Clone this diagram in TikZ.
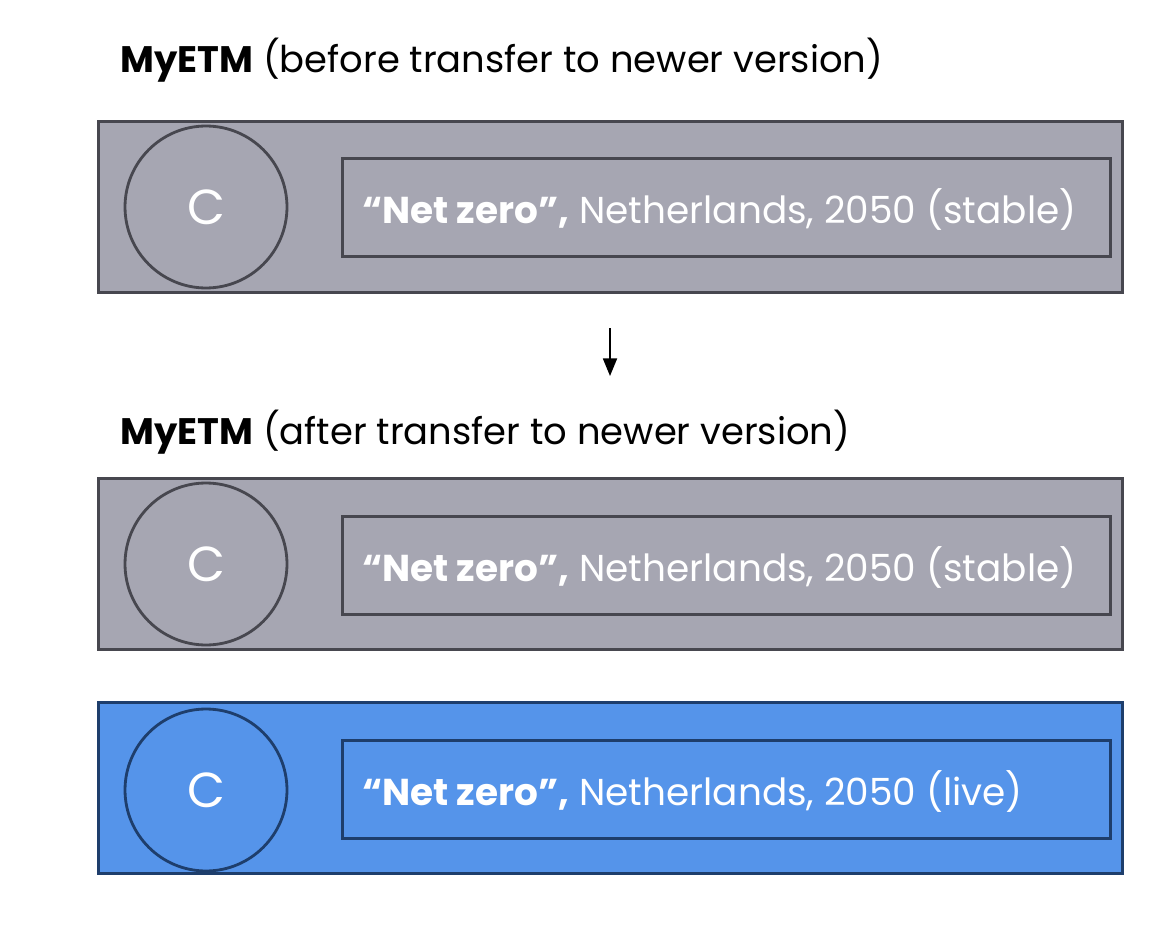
\documentclass[tikz,border=0pt]{standalone}
\usepackage{fontspec}
\setmainfont{Poppins}
\usetikzlibrary{arrows.meta}
\definecolor{grayfill}{HTML}{A6A6B2}
\definecolor{grayline}{HTML}{47474F}
\definecolor{bluefill}{HTML}{5594EA}
\definecolor{blueline}{HTML}{1E3E6C}
\tikzset{
  px/.style={x=0.02cm,y=-0.02cm},
  outerbox/.style={draw=#1, line width=1.6pt, minimum width=20.48cm, minimum height=3.42cm, anchor=north west, inner sep=0pt},
  innerbox/.style={draw=#1, line width=1.6pt, minimum width=15.36cm, minimum height=1.96cm, anchor=north west, inner sep=0pt},
  cbubble/.style={circle, draw=#1, line width=1.6pt, minimum size=3.24cm, inner sep=0pt, text=white, font=\fontsize{28}{30}\selectfont},
  label/.style={anchor=west, text=white, font=\fontsize{21.3}{24}\selectfont, inner sep=0pt},
  title/.style={anchor=west, font=\fontsize{21}{24}\selectfont, inner sep=0pt},
}
\begin{document}
\begin{tikzpicture}[px]
\useasboundingbox (0,0) rectangle (1172,932);
% titles
\node[title] (t1) at (120,60) {\textbf{MyETM} (before transfer to newer version)};
\node[title] (t2) at (120,432) {\textbf{MyETM} (after transfer to newer version)};
% box 1
\node[outerbox=grayline, fill=grayfill] (b1) at (97,120) {};
\node[cbubble=grayline] (c1) at (206,207) {C};
\node[innerbox=grayline] (i1) at (341,157) {};
\node[label] (l1) at (362,210) {\textbf{“Net zero”,} Netherlands, 2050 (stable)};
% arrow
\coordinate (a1) at (610,328);
\coordinate (a2) at (610,376);
\draw[-{Triangle[length=10pt,width=8pt]}, line width=0.9pt] (a1) -- (a2);
% box 2
\node[outerbox=grayline, fill=grayfill] (b2) at (97,477) {};
\node[cbubble=grayline] (c2) at (206,564) {C};
\node[innerbox=grayline] (i2) at (341,515) {};
\node[label] (l2) at (362,567) {\textbf{“Net zero”,} Netherlands, 2050 (stable)};
% box 3
\node[outerbox=blueline, fill=bluefill] (b3) at (97,701) {};
\node[cbubble=blueline] (c3) at (206,790) {C};
\node[innerbox=blueline] (i3) at (341,739) {};
\node[label] (l3) at (362,791) {\textbf{“Net zero”,} Netherlands, 2050 (live)};
\end{tikzpicture}
\end{document}
